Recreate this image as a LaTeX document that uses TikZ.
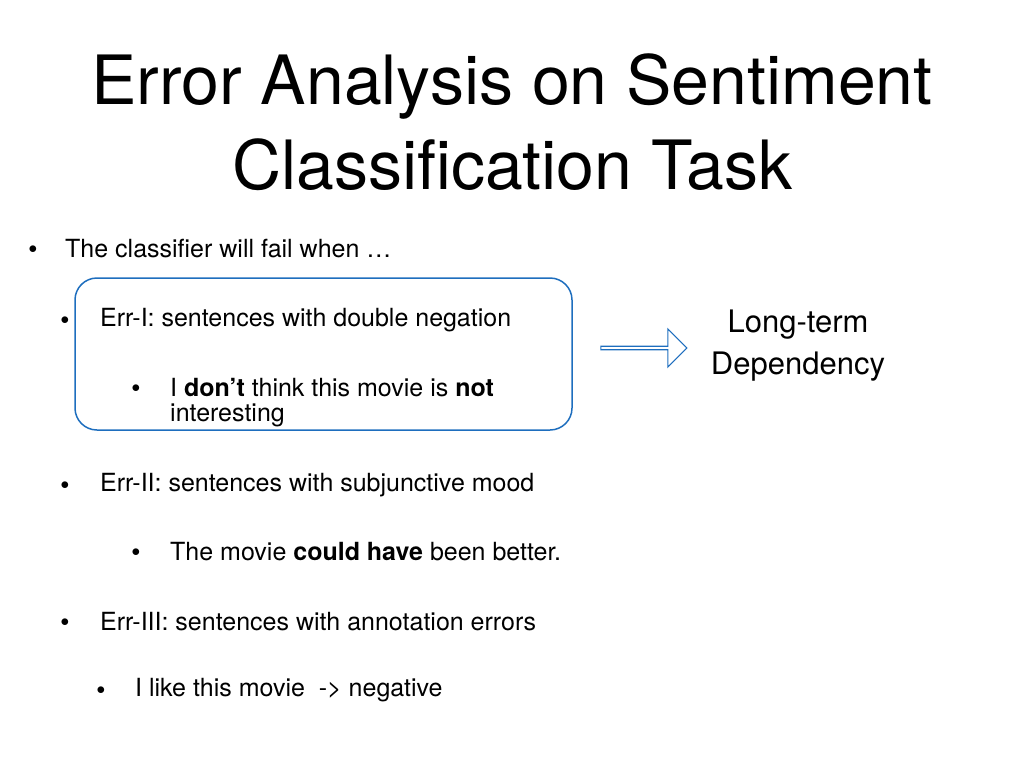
\documentclass[tikz,border=0pt]{standalone}
\usepackage{fontspec}
\setmainfont{TeX Gyre Heros}
\usetikzlibrary{shapes.arrows}
\definecolor{boxblue}{RGB}{30,110,190}
\tikzset{
  txt/.style={anchor=west, inner sep=0pt, font=\fontsize{25}{30}\selectfont},
  dot/.style={anchor=center, inner sep=0pt, font=\fontsize{16}{16}\selectfont}
}
\begin{document}
\begin{tikzpicture}[x=1pt,y=-1pt]
    \useasboundingbox (0,0) rectangle (1024,768);
    \node (title) at (512,122) [align=center, font=\fontsize{68}{85}\selectfont] {Error Analysis on Sentiment\\Classification Task};
    % bullets
    \node[dot] at (33,250) {$\bullet$};
    \node[txt] (fail) at (65,249) {The classifier will fail when \dots};
    \node[dot] at (65,321) {$\bullet$};
    \node[txt] (errone) at (100,320) {Err-I: sentences with double negation};
    \node[dot] at (136,389) {$\bullet$};
    \node[txt] (exone) at (170,388) {I \textbf{don’t} think this movie is \textbf{not}};
    \node[txt] at (170,415) {interesting};
    \node[dot] at (65,486) {$\bullet$};
    \node[txt] (errtwo) at (100,485) {Err-II: sentences with subjunctive mood};
    \node[dot] at (136,553) {$\bullet$};
    \node[txt] (extwo) at (170,552) {The movie \textbf{could have} been better.};
    \node[dot] at (65,623) {$\bullet$};
    \node[txt] (errthree) at (100,622) {Err-III: sentences with annotation errors};
    \node[dot] at (101,691) {$\bullet$};
    \node[txt] (exthree) at (135,690) {I like this movie\ \ -> negative};
    % box and arrow
    \draw[boxblue, line width=1.5pt, rounded corners=22pt] (75,278) rectangle (572,430);
    \node (arr) at (643,348) [single arrow, draw=boxblue, line width=1.2pt,
        minimum width=38pt, minimum height=86pt, single arrow head extend=6pt,
        single arrow tip angle=90, inner sep=0pt] {};
    \node (dep) at (798,346) [align=center, font=\fontsize{31}{42}\selectfont] {Long-term\\Dependency};
\end{tikzpicture}
\end{document}
